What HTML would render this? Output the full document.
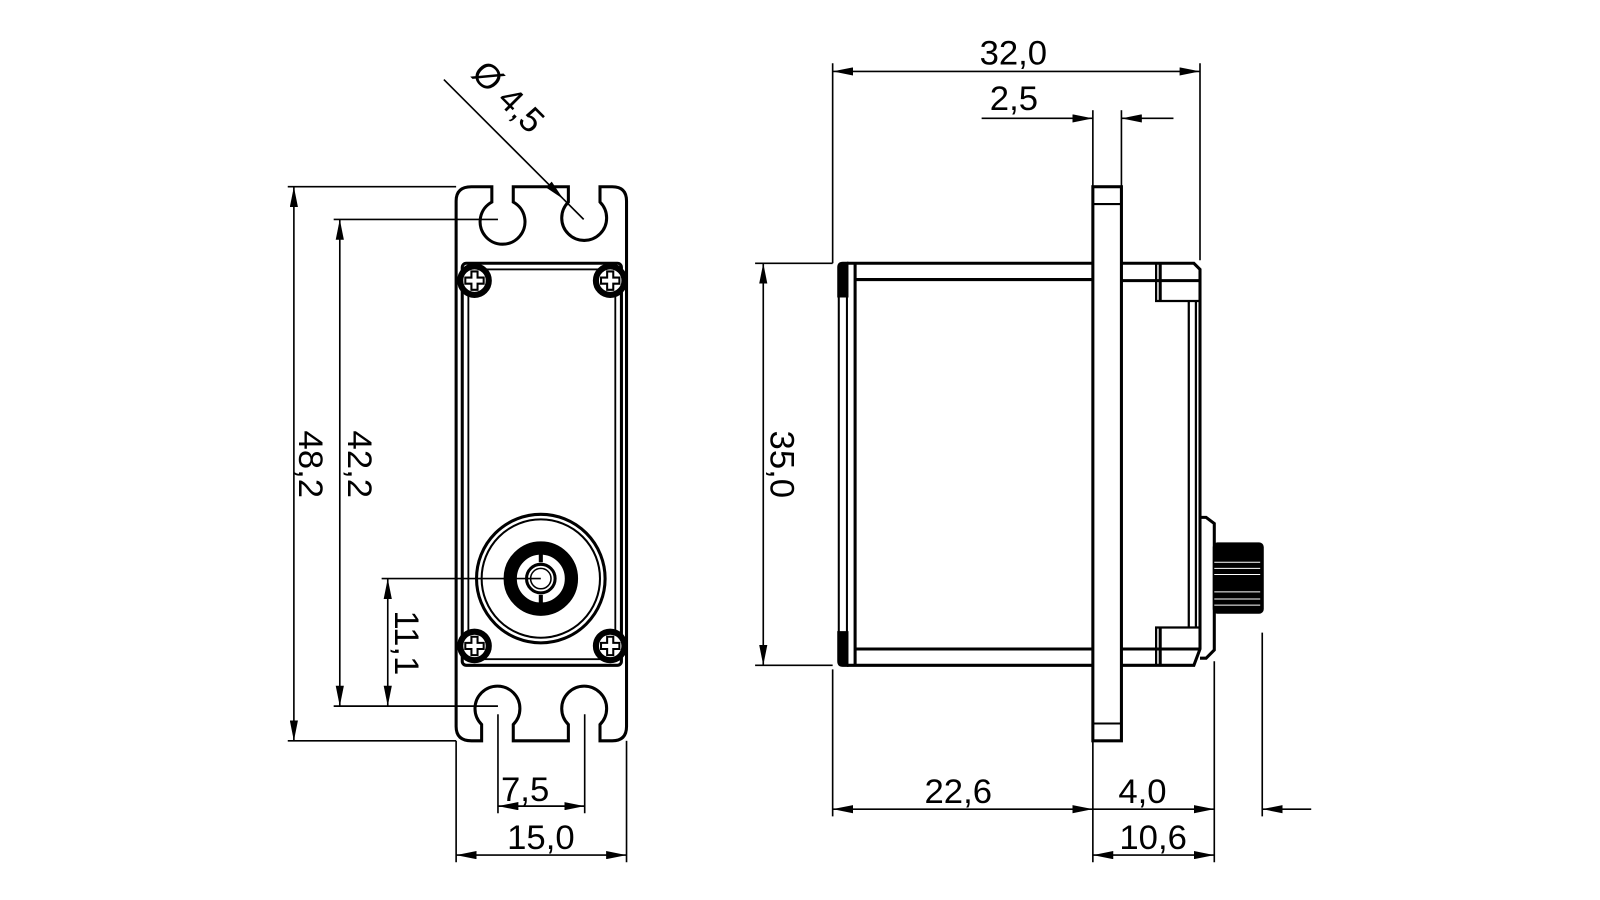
<!DOCTYPE html>
<html><head><meta charset="utf-8"><style>
html,body{margin:0;padding:0;background:#fff;width:1600px;height:900px;overflow:hidden}
text{font-family:"Liberation Sans",sans-serif;font-size:34px;fill:#000}
</style></head><body>
<svg width="1600" height="900" viewBox="0 0 1568 882" xmlns="http://www.w3.org/2000/svg">
<defs>
<marker id="a" viewBox="0 0 20 8" refX="20" refY="4" markerWidth="20" markerHeight="8" markerUnits="userSpaceOnUse" orient="auto-start-reverse"><path d="M0,0 L20,4 L0,8z" fill="#000"/></marker>
<g id="scr"><circle r="14" fill="#fff" stroke="#000" stroke-width="6"/><path d="M-3,-9h6v6h6v6h-6v6h-6v-6h-6v-6h6z" fill="#fff" stroke="#000" stroke-width="2"/></g>
</defs>
<g stroke="#000" fill="none" stroke-width="1.6">
<line x1="282" y1="183" x2="447" y2="183"/><line x1="282" y1="726" x2="447" y2="726"/>
<line x1="288" y1="183" x2="288" y2="726" marker-start="url(#a)" marker-end="url(#a)"/>
<line x1="327" y1="215" x2="488" y2="215"/><line x1="327" y1="692" x2="488" y2="692"/>
<line x1="333" y1="215" x2="333" y2="692" marker-start="url(#a)" marker-end="url(#a)"/>
<line x1="374" y1="567" x2="530" y2="567"/>
<line x1="380" y1="567" x2="380" y2="692" marker-start="url(#a)" marker-end="url(#a)"/>
<line x1="488" y1="700" x2="488" y2="797"/><line x1="573" y1="700" x2="573" y2="797"/>
<line x1="488" y1="790" x2="573" y2="790" marker-start="url(#a)" marker-end="url(#a)"/>
<line x1="447" y1="726" x2="447" y2="845"/><line x1="614" y1="726" x2="614" y2="845"/>
<line x1="447" y1="838" x2="614" y2="838" marker-start="url(#a)" marker-end="url(#a)"/>
<line x1="435" y1="78" x2="552" y2="195" marker-end="url(#a)"/>
<line x1="552" y1="195" x2="572" y2="215"/>
<line x1="816" y1="62" x2="816" y2="258"/><line x1="1176" y1="62" x2="1176" y2="255"/>
<line x1="816" y1="70" x2="1176" y2="70" marker-start="url(#a)" marker-end="url(#a)"/>
<line x1="1071" y1="108" x2="1071" y2="183"/><line x1="1099" y1="108" x2="1099" y2="183"/>
<line x1="962" y1="116" x2="1071" y2="116" marker-end="url(#a)"/>
<line x1="1150" y1="116" x2="1099" y2="116" marker-end="url(#a)"/>
<line x1="740" y1="258" x2="816" y2="258"/><line x1="740" y1="652" x2="816" y2="652"/>
<line x1="748" y1="258" x2="748" y2="652" marker-start="url(#a)" marker-end="url(#a)"/>
<line x1="816" y1="656" x2="816" y2="800"/><line x1="1071" y1="727" x2="1071" y2="845"/>
<line x1="816" y1="793" x2="1071" y2="793" marker-start="url(#a)" marker-end="url(#a)"/>
<line x1="1190" y1="648" x2="1190" y2="845"/><line x1="1237" y1="620" x2="1237" y2="800"/>
<line x1="1071" y1="793" x2="1190" y2="793" marker-end="url(#a)"/>
<line x1="1285" y1="793" x2="1237" y2="793" marker-end="url(#a)"/>
<line x1="1071" y1="838" x2="1190" y2="838" marker-start="url(#a)" marker-end="url(#a)"/>
</g>
<g stroke="#000" fill="none" stroke-width="3">
<path d="M462,183 L482,183 L482,198 A22,22 0 1,0 503,198 L503,183 L557,183 L557,198 A22,22 0 1,0 588,198 L588,183 L600,183 Q614,183 614,197 L614,712 Q614,726 600,726 L588,726 L588,710 A22,22 0 1,0 557,710 L557,726 L503,726 L503,710 A22,22 0 1,0 472,710 L472,726 L462,726 Q447,726 447,712 L447,197 Q447,183 462,183Z"/>
<rect x="453" y="258" width="156" height="394" rx="4"/>
<rect x="459" y="264" width="144" height="382" stroke-width="1.8"/>
<circle cx="530" cy="567" r="63"/><circle cx="530" cy="567" r="58" stroke-width="2"/>
<circle cx="530" cy="567" r="30" stroke-width="13"/>
<circle cx="530" cy="567" r="14"/><circle cx="530" cy="567" r="10" stroke-width="1.5"/>
<path d="M530,531v20M530,583v20" stroke-width="4"/>
<path d="M830,258 H1071 M838,274 H1071 M830,652 H1071 M838,636 H1071 M838,258 V652"/>
<path d="M822,262 Q822,258 826,258 H830 V290 H822Z M822,620 H830 V652 H826 Q822,652 822,648Z" fill="#000"/>
<path d="M822,290 V620 M830,290 V620" stroke-width="2"/>
<rect x="1071" y="183" width="28" height="543"/>
<path d="M1071,200h28M1071,709h28" stroke-width="2"/>
<path d="M1099,258 H1170 L1176,264 V636 L1170,652 H1099 M1099,275 H1176 M1099,636 H1176"/>
<path d="M1133,258 V295 H1176 M1133,652 V615 H1176 M1165,295 V615 M1172,295 V615" stroke-width="2.2"/>
<path d="M1137,258V295M1137,615V652" stroke-width="3"/>
<path d="M1176,507 H1182 L1190,513 V637 L1182,645 H1176"/>
<rect x="1190" y="533" width="47" height="67" rx="3" fill="#000"/>
<path d="M1190,551h45M1190,557h45M1190,563h45M1190,587h45M1190,593h45M1190,580h45" stroke="#fff" stroke-width="1"/>
</g>
<use href="#scr" x="465" y="275"/><use href="#scr" x="598" y="275"/>
<use href="#scr" x="465" y="633"/><use href="#scr" x="598" y="633"/>
<text x="491" y="785">7,5</text>
<text x="497" y="832">15,0</text>
<text x="906" y="787">22,6</text>
<text x="1096" y="787">4,0</text>
<text x="1097" y="832">10,6</text>
<text x="960" y="63">32,0</text>
<text x="970" y="108">2,5</text>
<text transform="translate(293,455) rotate(90)" text-anchor="middle">48,2</text>
<text transform="translate(341,455) rotate(90)" text-anchor="middle">42,2</text>
<text transform="translate(387,630) rotate(90)" text-anchor="middle">11,1</text>
<text transform="translate(755,455) rotate(90)" text-anchor="middle">35,0</text>
<text transform="translate(490,103) rotate(45)" text-anchor="middle">Ø 4,5</text>
</svg>
</body></html>
